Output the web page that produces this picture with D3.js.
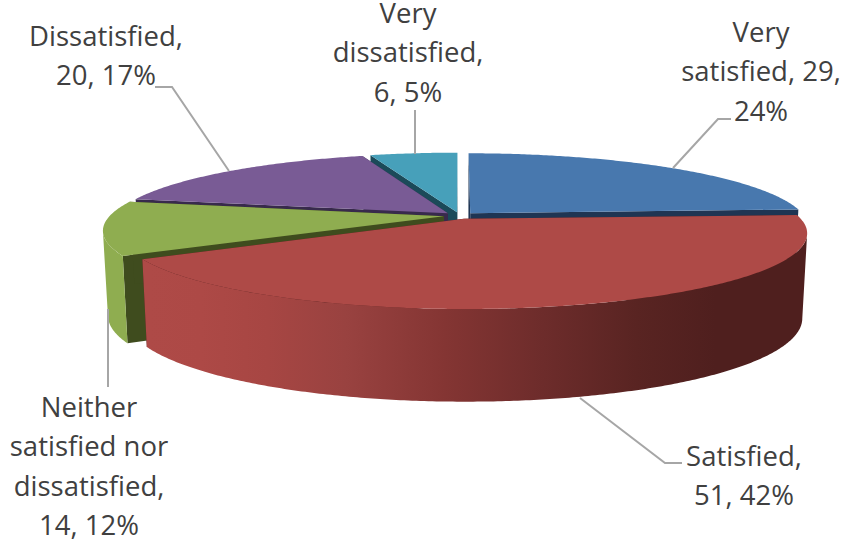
<!DOCTYPE html>
<html><head><meta charset="utf-8">
<script src="https://cdn.jsdelivr.net/npm/d3@7/dist/d3.min.js"></script>
<style>html,body{margin:0;padding:0;background:#fff}svg{display:block}</style>
</head><body><svg id="c" width="846" height="543"></svg>
<script>
// Data
const categories = ["Very satisfied","Satisfied","Neither satisfied nor dissatisfied","Dissatisfied","Very dissatisfied"];
const values = [29,51,14,20,6];
const percents = ["24%","42%","12%","17%","5%"];

// Style and layout
const topColors  = ["#4878AE","#AE4A47","#8FAD50","#795B95","#47A0BA"];
const sideColors = ["#1F3553","#4F1F1E","#3F4C1E","#382A4C","#1B4A59"];
const labelLines = [
  ["Very","satisfied, "+values[0]+",",percents[0]],
  ["Satisfied,",values[1]+", "+percents[1]],
  ["Neither","satisfied nor","dissatisfied,",values[2]+", "+percents[2]],
  ["Dissatisfied,",values[3]+", "+percents[3]],
  ["Very","dissatisfied,",values[4]+", "+percents[4]]
];
const labelPos = [[761,42],[744,466],[89,417],[106,46],[408,23]];
const leaders = [
  [[673,168],[718,119],[731,119]],
  [[580,398],[665,463],[682,463]],
  [[108,309],[108,387]],
  [[229,171],[172,87],[155,87]],
  [[415,154],[415,110]]
];
const fontSize = 27.5, lineGap = 39.4;

// Projection of the tilted disc
const cx=459.5, cy=215.6, R=334, Ry=71.9, k=.187, explode=.047, H=83, kz=.1, shrink=.986;
function project(u,v,z){
  const w=1/(1+k*v), wz=1/(1+kz*v);
  const s=1-(1-shrink)*z;
  return [cx+R*u*w*s, cy-Ry*v*w+z*H*wz];
}

const pie=d3.pie().sort(null).value(d=>d).startAngle(0).endAngle(2*Math.PI);
const arcs=pie(values);
const svg=d3.select("#c");
const line=d3.line();

const defs=svg.append("defs");
const g=defs.append("linearGradient").attr("id","redWall").attr("gradientUnits","userSpaceOnUse")
  .attr("x1",148).attr("x2",808).attr("y1",0).attr("y2",0);
[[0,"#AE4A47"],[.08,"#AD4946"],[.18,"#A74643"],[.3,"#994240"],[.45,"#843533"],[.6,"#6D2C2B"],[.74,"#592422"],[.86,"#4F1F1E"],[1,"#4F1F1E"]]
 .forEach(s=>g.append("stop").attr("offset",s[0]).attr("stop-color",s[1]));

function arcPts(a,b,du,dv,z){
  const n=Math.max(4,Math.ceil((b-a)/0.01)), out=[];
  for(let i=0;i<=n;i++){const t=a+(b-a)*i/n; out.push(project(du+Math.sin(t),dv+Math.cos(t),z));}
  return out;
}
// Angles at which the disc's rim turns away from the viewer (leftmost/rightmost projected points)
const sweep=d3.range(0,2*Math.PI,0.005);
function silhouette(du,dv){
  const xOf=t=>project(du+Math.sin(t),dv+Math.cos(t),0)[0];
  return [sweep[d3.greatestIndex(sweep,xOf)],sweep[d3.leastIndex(sweep,xOf)]];
}
// Painter's order: back to front
[4,0,3,2,1].forEach(i=>{
  const d=arcs[i], mid=(d.startAngle+d.endAngle)/2;
  const du=explode*Math.sin(mid), dv=explode*Math.cos(mid);
  const gs=svg.append("g");
  const apex0=project(du,dv,0), apex1=project(du,dv,1);
  [d.startAngle,d.endAngle].forEach(t=>{
    const p0=project(du+Math.sin(t),dv+Math.cos(t),0), p1=project(du+Math.sin(t),dv+Math.cos(t),1);
    gs.append("path").attr("d",line([apex0,p0,p1,apex1])+"Z").attr("fill",sideColors[i]);
  });
  // outer rim: only the part that faces the viewer
  const [sr,sl]=silhouette(du,dv);
  const a=Math.max(d.startAngle,sr), b=Math.min(d.endAngle,sl);
  if(b>a){
    const top=arcPts(a,b,du,dv,0), bot=arcPts(a,b,du,dv,1).reverse();
    gs.append("path").attr("d",line(top.concat(bot))+"Z")
      .attr("fill",i===1?"url(#redWall)":topColors[i]);
  }
  const surface=arcPts(d.startAngle,d.endAngle,du,dv,0);
  gs.append("path").attr("d",line([apex0].concat(surface))+"Z").attr("fill",topColors[i]);
});

leaders.forEach(l=>svg.append("path").attr("d",line(l)).attr("fill","none").attr("stroke","#A6A6A6").attr("stroke-width",2));

labelLines.forEach((ls,i)=>{
  const t=svg.append("text").attr("font-family","'Open Sans',sans-serif").attr("font-size",fontSize)
    .attr("fill","#404040").attr("text-anchor","middle");
  ls.forEach((s,j)=>t.append("tspan").attr("x",labelPos[i][0]).attr("y",labelPos[i][1]+j*lineGap).text(s));
});
</script></body></html>
